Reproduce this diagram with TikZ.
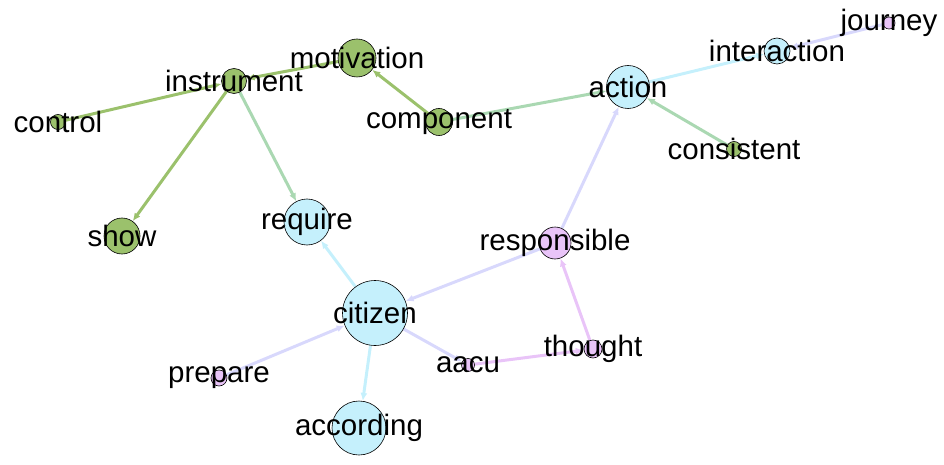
\documentclass[tikz,border=0pt]{standalone}
\usepackage{fontspec}
\setmainfont{Liberation Sans}
\usetikzlibrary{arrows.meta}
\pgfdeclarelayer{background}
\pgfsetlayers{background,main}
\definecolor{gN}{RGB}{155,193,108}
\definecolor{bN}{RGB}{197,240,252}
\definecolor{pN}{RGB}{233,196,248}
\definecolor{eGG}{RGB}{155,193,108}
\definecolor{eGB}{RGB}{170,216,178}
\definecolor{eBB}{RGB}{197,240,252}
\definecolor{eBP}{RGB}{216,216,252}
\definecolor{ePP}{RGB}{233,196,248}
\tikzset{
  vtx/.style={circle,draw=black,line width=0.6pt,inner sep=0pt,minimum size=#1},
  lbl/.style={inner sep=0pt,font=\fontsize{29.5}{30}\selectfont},
  lnk/.style={line width=3pt,draw=#1,-{Latex[length=8pt,width=7pt]}}
}
\begin{document}
\begin{tikzpicture}[x=1pt,y=-1pt]
\useasboundingbox (0,0) rectangle (944,465);
% circles
\node[vtx=25pt,fill=gN] (instrument) at (234,81) {};
\node[vtx=38pt,fill=gN] (motivation) at (357,58) {};
\node[vtx=15pt,fill=gN] (control) at (58,122) {};
\node[vtx=27pt,fill=gN] (component) at (439,122) {};
\node[vtx=36pt,fill=gN] (show) at (122,236) {};
\node[vtx=46pt,fill=bN] (require) at (307,222) {};
\node[vtx=43pt,fill=bN] (action) at (628,87) {};
\node[vtx=26pt,fill=bN] (interaction) at (777,51) {};
\node[vtx=12pt,fill=pN] (journey) at (889,23) {};
\node[vtx=15pt,fill=gN] (consistent) at (734,149) {};
\node[vtx=32pt,fill=pN] (responsible) at (555,243) {};
\node[vtx=65pt,fill=bN] (citizen) at (375,313) {};
\node[vtx=16pt,fill=pN] (prepare) at (219,378) {};
\node[vtx=13pt,fill=pN] (aacu) at (468,365) {};
\node[vtx=18pt,fill=pN] (thought) at (593,349) {};
\node[vtx=54pt,fill=bN] (according) at (359,428) {};
% edges
\begin{pgfonlayer}{background}
\draw[lnk=eGG] (control) -- (instrument);
\draw[lnk=eGG] (motivation) -- (instrument);
\draw[lnk=eGG] (instrument) -- (show);
\draw[lnk=eGB] (instrument) -- (require);
\draw[lnk=eGG] (component) -- (motivation);
\draw[lnk=eGB] (component) -- (action);
\draw[lnk=eBB] (action) -- (interaction);
\draw[lnk=eBP] (journey) -- (interaction);
\draw[lnk=eGB] (consistent) -- (action);
\draw[lnk=eBP] (responsible) -- (action);
\draw[lnk=eBP] (responsible) -- (citizen);
\draw[lnk=eBB] (citizen) -- (require);
\draw[lnk=eBP] (prepare) -- (citizen);
\draw[lnk=eBP] (citizen) -- (aacu);
\draw[lnk=eBB] (citizen) -- (according);
\draw[lnk=ePP] (thought) -- (responsible);
\draw[lnk=ePP] (aacu) -- (thought);
\end{pgfonlayer}
% labels
\node[lbl] (Linstrument) at (instrument) {instrument};
\node[lbl] (Lmotivation) at (motivation) {motivation};
\node[lbl] (Lcontrol) at (control) {control};
\node[lbl] (Lcomponent) at (component) {component};
\node[lbl] (Lshow) at (show) {show};
\node[lbl] (Lrequire) at (require) {require};
\node[lbl] (Laction) at (action) {action};
\node[lbl] (Linteraction) at (interaction) {interaction};
\node[lbl] (Ljourney) at (journey) {journey};
\node[lbl] (Lconsistent) at (consistent) {consistent};
\node[lbl] (Lresponsible) at (responsible) {responsible};
\node[lbl] (Lcitizen) at (citizen) {citizen};
\node[lbl] (Lprepare) at (prepare) {prepare};
\node[lbl] (Laacu) at (aacu) {aacu};
\node[lbl] (Lthought) at (thought) {thought};
\node[lbl] (Laccording) at (according) {according};
\end{tikzpicture}
\end{document}
